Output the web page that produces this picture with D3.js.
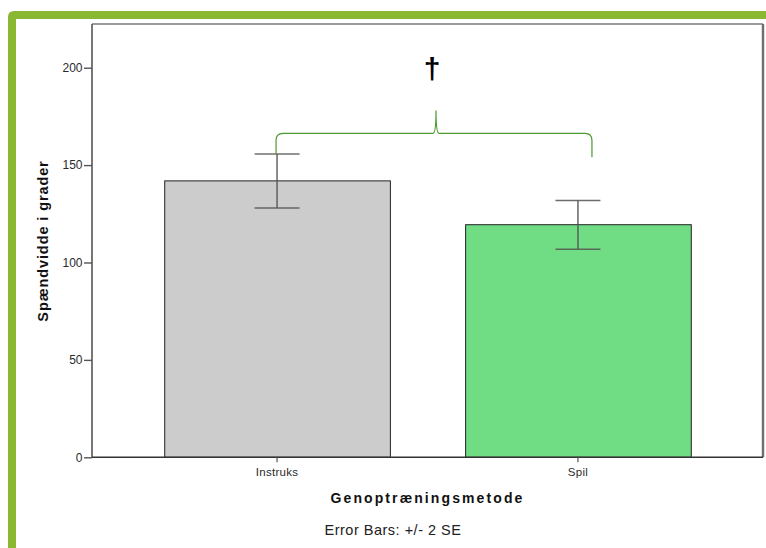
<!DOCTYPE html>
<html>
<head>
<meta charset="utf-8">
<script src="https://cdn.jsdelivr.net/npm/d3@7/dist/d3.min.js"></script>
<style>
  html, body { margin: 0; padding: 0; background: #fff; }
  svg { display: block; }
  text { font-family: "Liberation Sans", Arial, sans-serif; }
</style>
</head>
<body>
<svg id="chart" width="766" height="548"></svg>
<script>
// Group means and +/- 2 SE limits
const categories = ["Instruks", "Spil"];
const means = [141.9, 119.4];
const lower = [128.0, 106.8];
const upper = [155.7, 131.8];
const barColors = ["#cccccc", "#70dc84"];
const yTicks = [0, 50, 100, 150, 200];

const svg = d3.select("#chart");

// Frame decoration: green band along top and left edge
svg.append("path")
  .attr("d", "M8,548 L8,17 Q8,11 14,11 L766,11 L766,19 L16,19 L16,548 Z")
  .attr("fill", "#8bb832");

const plotLeft = 92, plotRight = 763, plotTop = 24;
const x = d3.scaleBand().domain(categories).range([plotLeft, plotRight])
  .paddingInner(0.25).paddingOuter(0.24);
const y = d3.scaleLinear().domain([0, 223]).range([457.3, 22.9]);

// Plot frame
svg.append("line").attr("x1", plotLeft).attr("x2", plotRight).attr("y1", plotTop).attr("y2", plotTop)
  .attr("stroke", "#7a7a7a").attr("stroke-width", 1.6);
svg.append("line").attr("x1", plotRight).attr("x2", plotRight).attr("y1", plotTop).attr("y2", y(0))
  .attr("stroke", "#6f6f6f").attr("stroke-width", 2.4);

// Bars
svg.append("g").selectAll("rect").data(categories).join("rect")
  .attr("x", d => x(d) + 0.5)
  .attr("y", (d, i) => y(means[i]))
  .attr("width", x.bandwidth())
  .attr("height", (d, i) => y(0) - y(means[i]))
  .attr("fill", (d, i) => barColors[i])
  .attr("stroke", "#222").attr("stroke-width", 1);

// Error bars
const eb = svg.append("g").attr("stroke", "#555").attr("stroke-opacity", 0.85).attr("stroke-width", 1.6);
categories.forEach((c, i) => {
  const cx = x(c) + x.bandwidth() / 2;
  eb.append("line").attr("x1", cx).attr("x2", cx).attr("y1", y(upper[i])).attr("y2", y(lower[i]));
  eb.append("line").attr("x1", cx - 22.5).attr("x2", cx + 22.5).attr("y1", y(upper[i])).attr("y2", y(upper[i]));
  eb.append("line").attr("x1", cx - 22.5).attr("x2", cx + 22.5).attr("y1", y(lower[i])).attr("y2", y(lower[i]));
});

// Y axis
const yAxis = svg.append("g").attr("transform", `translate(${plotLeft},0)`)
  .call(d3.axisLeft(y).tickValues(yTicks).tickSize(8).tickPadding(1.5));
yAxis.select(".domain").attr("d", `M0,${plotTop}V${y(0)}`).attr("stroke", "#555").attr("stroke-width", 1.6);
yAxis.selectAll(".tick line").attr("stroke", "#555").attr("stroke-width", 1.4);
yAxis.selectAll(".tick text").attr("font-size", 12).attr("fill", "#2b2b2b")
  .attr("font-family", "'Liberation Sans', Arial, sans-serif");

// X axis
const xAxis = svg.append("g").attr("transform", `translate(0,${y(0)})`)
  .call(d3.axisBottom(x).tickSize(5).tickPadding(6));
xAxis.select(".domain").attr("d", `M${plotLeft},0H${plotRight}`).attr("stroke", "#333").attr("stroke-width", 1.4);
xAxis.selectAll(".tick line").attr("stroke", "#555").attr("stroke-width", 1.2);
xAxis.selectAll(".tick text").attr("font-size", 11.5).attr("fill", "#2b2b2b")
  .attr("letter-spacing", 0.3)
  .attr("font-family", "'Liberation Sans', Arial, sans-serif");

// Axis titles
svg.append("text").attr("x", (plotLeft + plotRight) / 2).attr("y", 503)
  .attr("text-anchor", "middle").attr("font-size", 14).attr("font-weight", "bold")
  .attr("letter-spacing", 2.1)
  .attr("fill", "#111").text("Genoptræningsmetode");
svg.append("text").attr("transform", `translate(48,241) rotate(-90)`)
  .attr("text-anchor", "middle").attr("font-size", 14.5).attr("font-weight", "bold")
  .attr("letter-spacing", 0.9)
  .attr("fill", "#111").text("Spændvidde i grader");
svg.append("text").attr("x", 393).attr("y", 535)
  .attr("text-anchor", "middle").attr("font-size", 14.5)
  .attr("letter-spacing", 0.5)
  .attr("fill", "#222").text("Error Bars: +/- 2 SE");

// Significance brace between the two groups
const bx0 = x("Instruks") + x.bandwidth() / 2 - 1;
const bx1 = x("Spil") + x.bandwidth() / 2 + 14;
const bm = (bx0 + bx1) / 2 + 2;
const yb0 = y(156), yb1 = y(154), yh = y(166.3), yt = y(178);
const r = 7;
svg.append("path")
  .attr("d", `M${bx0},${yb0} L${bx0},${yh + r} Q${bx0},${yh} ${bx0 + r},${yh}
              L${bm - 3},${yh} Q${bm},${yh} ${bm},${yt}
              Q${bm},${yh} ${bm + 3},${yh} L${bx1 - r},${yh} Q${bx1},${yh} ${bx1},${yh + r} L${bx1},${yb1}`)
  .attr("fill", "none").attr("stroke", "#4a9a30").attr("stroke-width", 1.2);
svg.append("text").attr("x", bm - 4).attr("y", 79)
  .attr("text-anchor", "middle").attr("font-size", 30).attr("font-weight", "bold")
  .attr("fill", "#000").text("†");
</script>
</body>
</html>
